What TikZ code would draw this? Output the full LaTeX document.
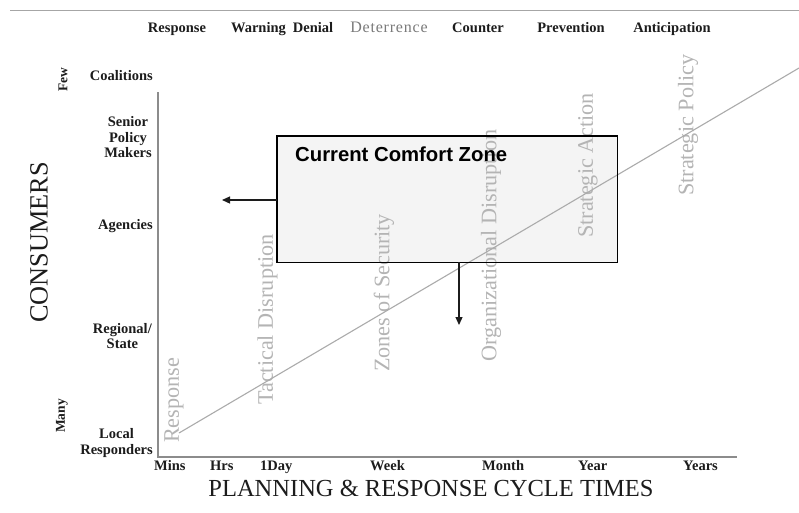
\documentclass[tikz,border=0pt]{standalone}
\usepackage{fontspec}
\setmainfont{Liberation Serif}
\newfontfamily\arialfont{Liberation Sans}
\usetikzlibrary{arrows.meta}

\definecolor{inkdark}{HTML}{1C1C1C}
\definecolor{axisgray}{HTML}{8C8C8C}
\definecolor{rulegray}{HTML}{A6A6A6}
\definecolor{diaggray}{HTML}{ABABAB}
\definecolor{phasegray}{HTML}{B4B4B4}
\definecolor{deterrgray}{HTML}{7A7A7A}
\definecolor{zonefill}{HTML}{F4F4F4}

\tikzset{
  lbl/.style={font=\bfseries\fontsize{14.5}{15.5}\selectfont, text=inkdark, inner sep=0pt},
  toplbl/.style={lbl, anchor=base},
  ticklbl/.style={lbl, anchor=base west},
  levellbl/.style={lbl, anchor=east, align=center},
  extremelbl/.style={font=\bfseries\fontsize{13.5}{14}\selectfont, text=inkdark, inner sep=0pt, rotate=90},
  phase/.style={font=\fontsize{22.2}{24}\selectfont, text=phasegray, inner sep=0pt, rotate=90, anchor=west},
  axistitle/.style={font=\fontsize{24.5}{26}\selectfont, text=inkdark, inner sep=0pt},
  axis/.style={draw=axisgray, line width=1.5pt},
  zonebox/.style={fill=zonefill, draw=none, minimum width=340pt, minimum height=126pt, inner sep=0pt},
  zoneborder/.style={draw=black, line width=1.4pt},
  push/.style={draw=inkdark, line width=1.2pt, -{Triangle[length=8pt,width=7pt]}},
}

\begin{document}
\begin{tikzpicture}[x=1pt, y=-1pt]
  \useasboundingbox (0,0) rectangle (799,512);
  \fill[white] (0,0) rectangle (799,512);

  % top rule
  \coordinate (ruleL) at (10,10);
  \coordinate (ruleR) at (799,10);
  \draw[rulegray, line width=1pt] (ruleL) -- (ruleR);

  % strategy labels along the top
  \node[toplbl] (tResp) at (177,32) {Response};
  \node[toplbl] (tWarn) at (258.5,32) {Warning};
  \node[toplbl] (tDeny) at (313,32) {Denial};
  \node[toplbl, font=\fontsize{16}{17}\selectfont\addfontfeature{LetterSpace=5}, text=deterrgray] (tDeter) at (389,32) {Deterrence};
  \node[toplbl] (tCount) at (478,32) {Counter};
  \node[toplbl] (tPrev) at (571,32) {Prevention};
  \node[toplbl] (tAnti) at (672,32) {Anticipation};

  % comfort zone box (fill first so labels show through)
  \node[zonebox] (zone) at (447,199) {};

  % axes
  \coordinate (yTop) at (158,92);
  \coordinate (origin) at (158,457);
  \coordinate (xEnd) at (737,457);
  \draw[axis] (yTop) -- (origin) -- (xEnd);

  % consumer levels
  \node[extremelbl] (few) at (63,80) {Few};
  \node[extremelbl] (many) at (62,416) {Many};
  \node[levellbl] (coal) at (153,76) {Coalitions};
  \node[levellbl] (senior) at (152,137.5) {Senior\\Policy\\Makers};
  \node[levellbl] (agen) at (153,226) {Agencies};
  \node[levellbl] (region) at (152,336) {Regional/\\State};
  \node[levellbl] (local) at (153,443) {Local\\Responders};

  % cycle times
  \node[ticklbl] (mins) at (154,470.5) {Mins};
  \node[ticklbl] (hrs) at (210,470.5) {Hrs};
  \node[ticklbl] (day) at (260,470.5) {1Day};
  \node[ticklbl] (week) at (370,470.5) {Week};
  \node[ticklbl] (month) at (482,470.5) {Month};
  \node[ticklbl] (year) at (578,470.5) {Year};
  \node[ticklbl] (years) at (683,470.5) {Years};

  % axis titles
  \node[axistitle, anchor=base] (xtitle) at (431,496) {PLANNING \& RESPONSE CYCLE TIMES};
  \node[axistitle, font=\fontsize{26.3}{28}\selectfont, rotate=90, anchor=west] (ytitle) at (39,323) {CONSUMERS};

  % phase labels
  \node[phase] (pResp) at (174,443) {Response};
  \node[phase] (pTact) at (267.5,405) {Tactical Disruption};
  \node[phase] (pZone) at (384,372) {Zones of Security};
  \node[phase] (pOrg) at (491,362) {Organizational Disruption};
  \node[phase] (pAct) at (588,238) {Strategic Action};
  \node[phase] (pPol) at (688,196) {Strategic Policy};

  % trend line
  \coordinate (trendA) at (179,433);
  \coordinate (trendB) at (799,68);
  \draw[diaggray, line width=1.1pt] (trendA) -- (trendB);

  % box border and title
  \draw[zoneborder] (zone.north west) rectangle (zone.south east);
  \node[font=\arialfont\bfseries\fontsize{20.3}{22}\selectfont, text=black, inner sep=0pt, anchor=base west] (ztitle) at (295,161) {Current Comfort Zone};

  % pressure arrows
  \coordinate (leftEnd) at (222,200);
  \coordinate (downEnd) at (459,325);
  \draw[push] (zone.west |- leftEnd) -- (leftEnd);
  \draw[push] (zone.south -| downEnd) -- (downEnd);
\end{tikzpicture}
\end{document}
